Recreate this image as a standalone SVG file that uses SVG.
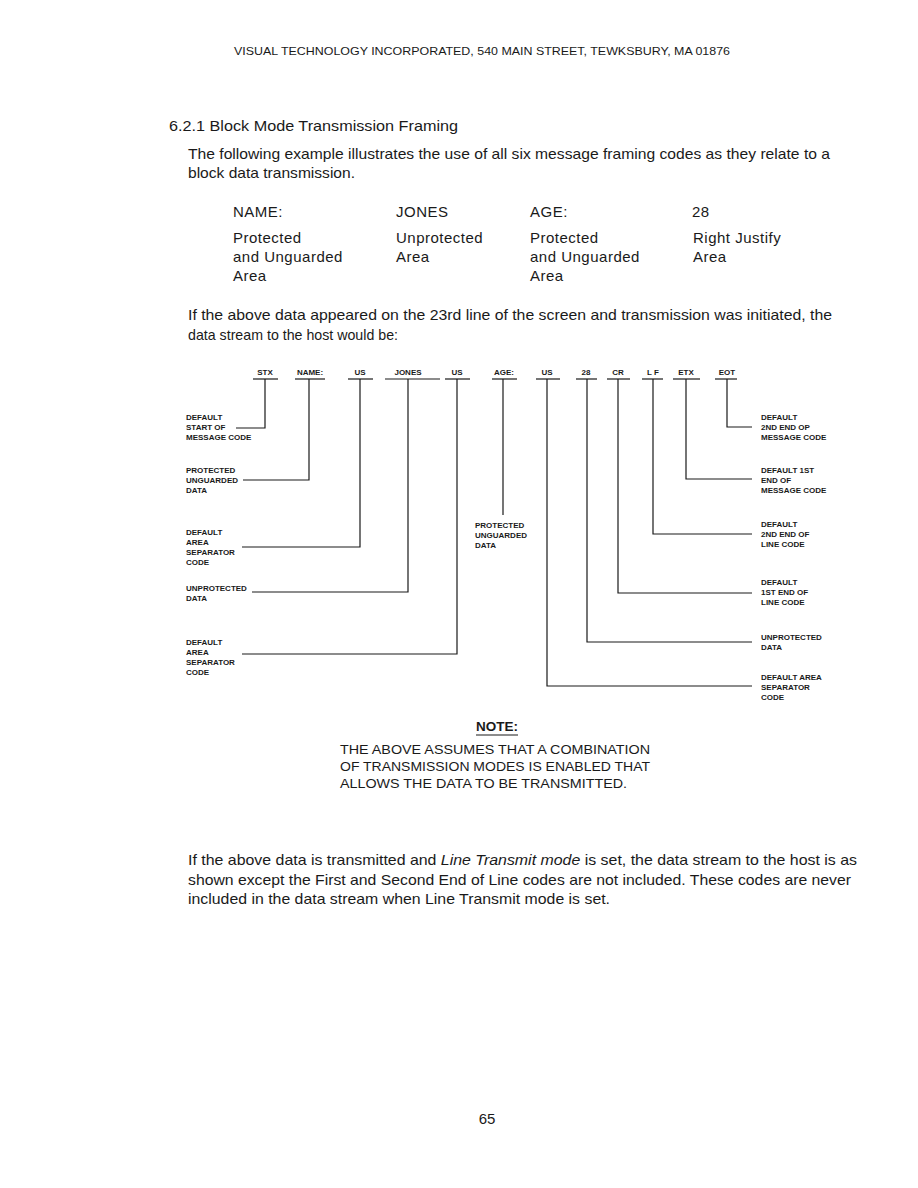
<svg xmlns="http://www.w3.org/2000/svg" width="918" height="1188" viewBox="0 0 918 1188">
<style>
.body{font-family:"Liberation Sans",Arial,sans-serif;font-size:15px;fill:#1a1a1a}
.tbl{font-family:"Liberation Sans",Arial,sans-serif;font-size:15px;fill:#1a1a1a;letter-spacing:0.5px}
.hdr{font-family:"Liberation Sans",Arial,sans-serif;font-size:10.5px;fill:#1a1a1a}
.lbl{font-family:"Liberation Sans",Arial,sans-serif;font-size:8px;font-weight:bold;fill:#1a1a1a}
.tok{font-family:"Liberation Sans",Arial,sans-serif;font-size:8px;font-weight:bold;fill:#1a1a1a;text-anchor:middle}
.note{font-family:"Liberation Sans",Arial,sans-serif;font-size:13.5px;fill:#1a1a1a}
.ln{stroke:#1a1a1a;stroke-width:1.2;fill:none}
</style>
<rect width="918" height="1188" fill="#fff"/>
<text class="hdr" x="234" y="55" textLength="496" lengthAdjust="spacingAndGlyphs">VISUAL TECHNOLOGY INCORPORATED, 540 MAIN STREET, TEWKSBURY, MA 01876</text>
<text class="body" x="169" y="131" textLength="289" lengthAdjust="spacingAndGlyphs">6.2.1 Block Mode Transmission Framing</text>
<text class="body" x="188" y="159" textLength="642" lengthAdjust="spacingAndGlyphs">The following example illustrates the use of all six message framing codes as they relate to a</text>
<text class="body" x="188" y="178" textLength="167" lengthAdjust="spacingAndGlyphs">block data transmission.</text>
<g id="table">
<text class="tbl" x="233" y="217">NAME:</text>
<text class="tbl" x="396" y="217">JONES</text>
<text class="tbl" x="530" y="217">AGE:</text>
<text class="tbl" x="692" y="217">28</text>
<text class="tbl" x="233" y="243">Protected</text>
<text class="tbl" x="233" y="262">and Unguarded</text>
<text class="tbl" x="233" y="281">Area</text>
<text class="tbl" x="396" y="243">Unprotected</text>
<text class="tbl" x="396" y="262">Area</text>
<text class="tbl" x="530" y="243">Protected</text>
<text class="tbl" x="530" y="262">and Unguarded</text>
<text class="tbl" x="530" y="281">Area</text>
<text class="tbl" x="693" y="243">Right Justify</text>
<text class="tbl" x="693" y="262">Area</text>
</g>
<text class="body" x="188" y="320" textLength="644" lengthAdjust="spacingAndGlyphs">If the above data appeared on the 23rd line of the screen and transmission was initiated, the</text>
<text class="body" x="188" y="340" textLength="210" lengthAdjust="spacingAndGlyphs">data stream to the host would be:</text>

<g id="connectors" class="ln">
<polyline points="265,379 265,428 236,428"/>
<polyline points="309,379 309,480 243,480"/>
<polyline points="360,379 360,547 242,547"/>
<polyline points="408,379 408,592 252,592"/>
<polyline points="457,379 457,654 242,654"/>
<polyline points="503,379 503,515"/>
<polyline points="547,379 547,686 752,686"/>
<polyline points="587,379 587,642 752,642"/>
<polyline points="618,379 618,593 752,593"/>
<polyline points="653,379 653,534 752,534"/>
<polyline points="686,379 686,479 752,479"/>
<polyline points="727,379 727,427 752,427"/>
</g>

<g id="tok-stx"><text class="tok" x="265" y="375">STX</text><line class="ln" x1="253" y1="379" x2="278" y2="379"/></g>
<g id="tok-name"><text class="tok" x="310" y="375">NAME:</text><line class="ln" x1="295" y1="379" x2="325" y2="379"/></g>
<g id="tok-us1"><text class="tok" x="360" y="375">US</text><line class="ln" x1="348" y1="379" x2="373" y2="379"/></g>
<g id="tok-jones"><text class="tok" x="408" y="375">JONES</text><line class="ln" x1="385" y1="379" x2="440" y2="379"/></g>
<g id="tok-us2"><text class="tok" x="457" y="375">US</text><line class="ln" x1="445" y1="379" x2="470" y2="379"/></g>
<g id="tok-age"><text class="tok" x="504" y="375">AGE:</text><line class="ln" x1="492" y1="379" x2="517" y2="379"/></g>
<g id="tok-us3"><text class="tok" x="547" y="375">US</text><line class="ln" x1="536" y1="379" x2="560" y2="379"/></g>
<g id="tok-28"><text class="tok" x="586" y="375">28</text><line class="ln" x1="576" y1="379" x2="597" y2="379"/></g>
<g id="tok-cr"><text class="tok" x="618" y="375">CR</text><line class="ln" x1="607" y1="379" x2="630" y2="379"/></g>
<g id="tok-lf"><text class="tok" x="653" y="375">L F</text><line class="ln" x1="642" y1="379" x2="663" y2="379"/></g>
<g id="tok-etx"><text class="tok" x="686" y="375">ETX</text><line class="ln" x1="673" y1="379" x2="700" y2="379"/></g>
<g id="tok-eot"><text class="tok" x="727" y="375">EOT</text><line class="ln" x1="715" y1="379" x2="737" y2="379"/></g>

<g id="lbl-stx" class="lbl"><text x="186" y="420">DEFAULT</text><text x="186" y="430">START OF</text><text x="186" y="440">MESSAGE CODE</text></g>
<g id="lbl-name" class="lbl"><text x="186" y="473">PROTECTED</text><text x="186" y="483">UNGUARDED</text><text x="186" y="493">DATA</text></g>
<g id="lbl-us1" class="lbl"><text x="186" y="535">DEFAULT</text><text x="186" y="545">AREA</text><text x="186" y="555">SEPARATOR</text><text x="186" y="565">CODE</text></g>
<g id="lbl-jones" class="lbl"><text x="186" y="591">UNPROTECTED</text><text x="186" y="601">DATA</text></g>
<g id="lbl-us2" class="lbl"><text x="186" y="645">DEFAULT</text><text x="186" y="655">AREA</text><text x="186" y="665">SEPARATOR</text><text x="186" y="675">CODE</text></g>
<g id="lbl-age" class="lbl"><text x="475" y="528">PROTECTED</text><text x="475" y="538">UNGUARDED</text><text x="475" y="548">DATA</text></g>
<g id="lbl-eot" class="lbl"><text x="761" y="420">DEFAULT</text><text x="761" y="430">2ND END OP</text><text x="761" y="440">MESSAGE CODE</text></g>
<g id="lbl-etx" class="lbl"><text x="761" y="473">DEFAULT 1ST</text><text x="761" y="483">END OF</text><text x="761" y="493">MESSAGE CODE</text></g>
<g id="lbl-lf" class="lbl"><text x="761" y="527">DEFAULT</text><text x="761" y="537">2ND END OF</text><text x="761" y="547">LINE CODE</text></g>
<g id="lbl-cr" class="lbl"><text x="761" y="585">DEFAULT</text><text x="761" y="595">1ST END OF</text><text x="761" y="605">LINE CODE</text></g>
<g id="lbl-28" class="lbl"><text x="761" y="640">UNPROTECTED</text><text x="761" y="650">DATA</text></g>
<g id="lbl-us3" class="lbl"><text x="761" y="680">DEFAULT AREA</text><text x="761" y="690">SEPARATOR</text><text x="761" y="700">CODE</text></g>

<g id="note">
<text class="note" x="497" y="731" text-anchor="middle" font-weight="bold">NOTE:</text>
<line class="ln" x1="476" y1="735" x2="518" y2="735"/>
<text class="note" x="340" y="754" textLength="310" lengthAdjust="spacingAndGlyphs">THE ABOVE ASSUMES THAT A COMBINATION</text>
<text class="note" x="340" y="771" textLength="310" lengthAdjust="spacingAndGlyphs">OF TRANSMISSION MODES IS ENABLED THAT</text>
<text class="note" x="340" y="788" textLength="287" lengthAdjust="spacingAndGlyphs">ALLOWS THE DATA TO BE TRANSMITTED.</text>
</g>

<text class="body" x="188" y="865" textLength="669" lengthAdjust="spacingAndGlyphs">If the above data is transmitted and <tspan font-style="italic">Line Transmit mode</tspan> is set, the data stream to the host is as</text>
<text class="body" x="188" y="885" textLength="663" lengthAdjust="spacingAndGlyphs">shown except the First and Second End of Line codes are not included.  These codes are never</text>
<text class="body" x="188" y="904" textLength="422" lengthAdjust="spacingAndGlyphs">included in the data stream when Line Transmit mode is set.</text>
<text class="body" x="487" y="1124" text-anchor="middle" font-size="16">65</text>
</svg>
